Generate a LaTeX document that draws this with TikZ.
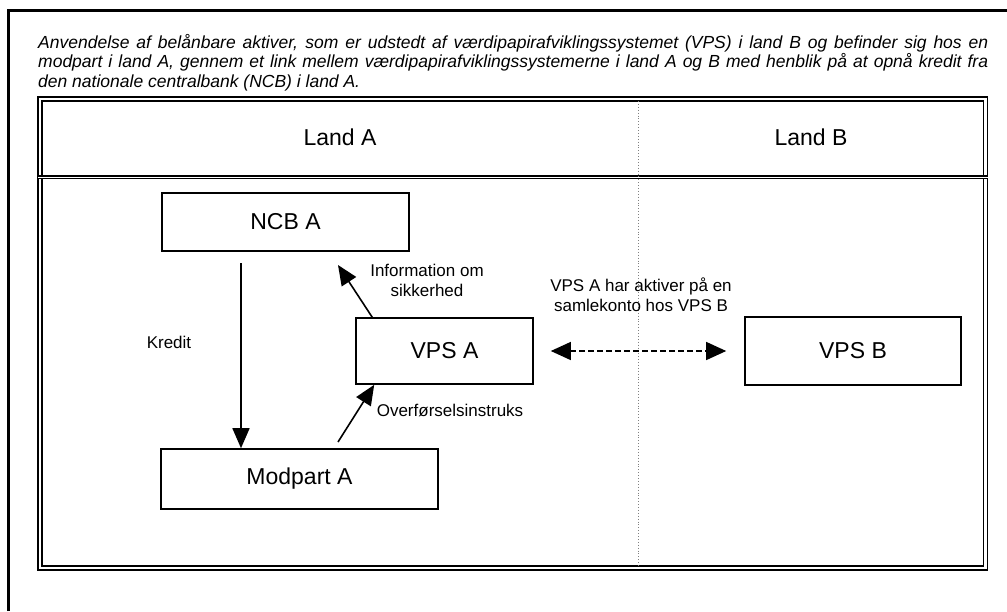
\documentclass[tikz,border=0pt]{standalone}
\usepackage{fontspec}
\setmainfont{Liberation Sans}
\usetikzlibrary{arrows.meta}

\begin{document}
\begin{tikzpicture}[x=1pt, y=-1pt,
        box/.style={draw, line width=1.6pt, inner sep=0pt, font=\fontsize{23}{26}\selectfont},
        lbl/.style={inner sep=0pt, align=center, font=\fontsize{17}{20}\selectfont},
        arr/.style={line width=1.6pt, -{Triangle[length=20pt, width=17pt]}},
        frame/.style={line width=1.3pt, double, double distance=2.5pt}]
            \useasboundingbox (0,0) rectangle (1007,611);
            \draw[line width=3pt] (8,611) -- (8,10) -- (1007,10);

            \node[anchor=north west, inner sep=0pt, text width=950pt, align=justify,
                font=\itshape\fontsize{17.5}{19.5}\selectfont] (title) at (38,34)
                {Anvendelse af belånbare aktiver, som er udstedt af værdipapirafviklingssystemet (VPS) i land B og befinder sig hos en\linebreak
                modpart i land A, gennem et link mellem værdipapirafviklingssystemerne i land A og B med henblik på at opnå kredit fra\linebreak
                den nationale centralbank (NCB) i land A.};

            % land A / land B frame
            \draw[frame] (40,99) rectangle (985.5,568);
            \draw[line width=1.2pt, double, double distance=0.8pt] (38,177) -- (988,177);
            \draw[dotted, gray, line width=0.9pt] (638,101) -- (638,566);
            \node[box, draw=none] (landa) at (340,137) {Land A};
            \node[box, draw=none] (landb) at (811,137) {Land B};

            \node[box, minimum width=247pt, minimum height=58pt] (ncb) at (285.5,222) {NCB A};
            \node[box, minimum width=177pt, minimum height=66pt] (vpsa) at (444.5,351) {VPS A};
            \node[box, minimum width=216pt, minimum height=68pt] (vpsb) at (853,351) {VPS B};
            \node[box, minimum width=277pt, minimum height=60pt] (modpart) at (299.5,479) {Modpart A};

            \coordinate (kreditstart) at (241,263);
            \coordinate (infotip) at (338,265);
            \coordinate (overfstart) at (338,442);
            \draw[arr] (kreditstart) -- (kreditstart |- modpart.north);
            \draw[arr] ([xshift=17pt]vpsa.north west) -- (infotip);
            \draw[arr] (overfstart) -- ([xshift=19pt]vpsa.south west);
            \draw[line width=1.3pt, dash pattern=on 6pt off 3pt,
                {Triangle[length=20pt, width=18pt]}-{Triangle[length=20pt, width=18pt]},
                shorten <=17pt, shorten >=18pt] (vpsa) -- (vpsb);

            \node[lbl] (kredit) at (169,342) {Kredit};
            \node[lbl] (info) at (427,280) {Information om\\sikkerhed};
            \node[lbl] (overf) at (450,410) {Overførselsinstruks};
            \node[lbl] (samle) at (641,295) {VPS A har aktiver på en\\samlekonto hos VPS B};
\end{tikzpicture}
\end{document}
